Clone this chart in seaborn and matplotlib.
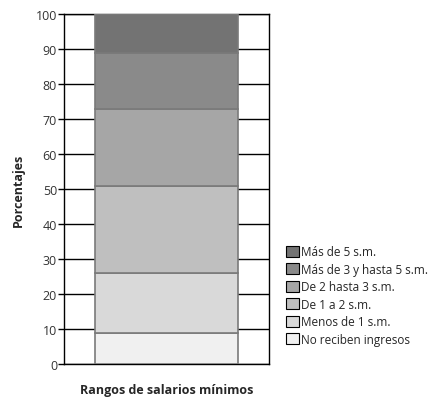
import matplotlib
matplotlib.use("Agg")
import matplotlib.pyplot as plt
import seaborn as sns
import pandas as pd
from matplotlib.patches import Patch

categories = ["No reciben ingresos", "Menos de 1 s.m.", "De 1 a 2 s.m.",
              "De 2 hasta 3 s.m.", "Más de 3 y hasta 5 s.m.", "Más de 5 s.m."]
values = [8.9, 17.0, 24.9, 22.1, 16.0, 11.1]
colors = ["#f0f0f0", "#d9d9d9", "#bfbfbf", "#a6a6a6", "#8a8a8a", "#737373"]
y_ticks = [0, 10, 20, 30, 40, 50, 60, 70, 80, 90, 100]

sns.set_theme(style="white")
plt.rcParams['font.family'] = ['Open Sans', 'DejaVu Sans']

fig = plt.figure(figsize=(4.41, 4.06), dpi=100)
ax = fig.add_axes([0.145, 0.101, 0.465, 0.862])

bottom = 0.0
for cat, val, col in zip(categories, values, colors):
    df = pd.DataFrame({"g": ["Rangos"], "v": [val]})
    sns.barplot(data=df, x="g", y="v", color=col, bottom=bottom, width=0.7,
                edgecolor="#7a7a7a", linewidth=1.2, saturation=1, ax=ax, zorder=3)
    bottom += val

ax.set_ylim(0, 100)
ax.set_xlim(-0.5, 0.5)
ax.set_yticks(y_ticks)
ax.set_yticklabels([str(t) for t in y_ticks], fontsize=9, color="#333333")
ax.set_xticks([])
for t in y_ticks:
    ax.axhline(t, color="black", linewidth=1.0, zorder=1)
ax.tick_params(axis="y", left=True, length=4, width=1.0, color="black", pad=1)
for s in ax.spines.values():
    s.set_color("black")
    s.set_linewidth(1.0)
    s.set_visible(True)

ax.set_ylabel("Porcentajes", fontsize=9, fontweight="bold", labelpad=8)
ax.set_xlabel("Rangos de salarios mínimos", fontsize=9, fontweight="bold", labelpad=14)

handles = [Patch(facecolor=c, edgecolor="black", linewidth=0.8, label=l)
           for l, c in zip(categories[::-1], colors[::-1])]
fig.legend(handles=handles, loc="upper left", bbox_to_anchor=(0.638, 0.405),
           frameon=False, fontsize=8.5, handlelength=1.1, handleheight=1.1,
           handletextpad=0.15, labelspacing=0.38, borderaxespad=0)

fig.savefig("out.png", dpi=100)
